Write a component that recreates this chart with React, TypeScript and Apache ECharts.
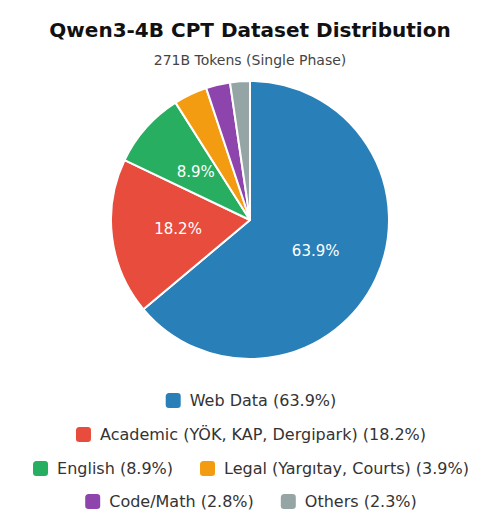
import { useEffect, useRef } from "react"
import * as echarts from "echarts"

const categories = [
  "Web Data",
  "Academic (YÖK, KAP, Dergipark)",
  "English",
  "Legal (Yargıtay, Courts)",
  "Code/Math",
  "Others",
]
const shares = [63.9, 18.2, 8.9, 3.9, 2.8, 2.3]
const colors = ["#2980b9", "#e74c3c", "#27ae60", "#f39c12", "#8e44ad", "#95a5a6"]
const legendRows = [
  ["Web Data"],
  ["Academic (YÖK, KAP, Dergipark)"],
  ["English", "Legal (Yargıtay, Courts)"],
  ["Code/Math", "Others"],
]
const legendTops = [386, 420, 454, 487]

const FONT = "DejaVu Sans"

export default function App() {
  const chartRef = useRef<HTMLDivElement>(null)

  useEffect(() => {
    if (!chartRef.current) return
    const chart = echarts.init(chartRef.current, null, { renderer: "svg" })

    const shareOf = (name: string) => shares[categories.indexOf(name)]

    const option = {
      animation: false,
      title: {
        text: "Qwen3-4B CPT Dataset Distribution",
        subtext: "271B Tokens (Single Phase)",
        left: "center",
        top: 15,
        itemGap: 13,
        textStyle: {
          fontFamily: FONT,
          fontSize: 20,
          fontWeight: "bold",
          color: "#111",
        },
        subtextStyle: {
          fontFamily: FONT,
          fontSize: 14,
          color: "#444",
        },
      },
      legend: legendRows.map((row, i) => ({
        data: row,
        top: legendTops[i],
        left: "center",
        icon: "roundRect",
        itemWidth: 17,
        itemHeight: 17,
        itemGap: 25,
        selectedMode: false,
        formatter: (name: string) => `${name} (${shareOf(name).toFixed(1)}%)`,
        textStyle: {
          fontFamily: FONT,
          fontSize: 16,
          color: "#333",
          padding: [0, 0, 0, 3],
        },
      })),
      series: [
        {
          type: "pie",
          center: [250, 220],
          radius: 139,
          startAngle: 90,
          clockwise: true,
          data: categories.map((name, i) => ({
            name,
            value: shares[i],
            itemStyle: { color: colors[i] },
          })),
          itemStyle: {
            borderColor: "#fff",
            borderWidth: 2,
          },
          label: {
            position: "inside",
            fontFamily: FONT,
            fontSize: 15,
            color: "#fff",
            formatter: (p: any) => (p.value >= 5 ? `${p.value.toFixed(1)}%` : ""),
          },
          labelLine: { show: false },
          emphasis: { disabled: true },
        },
      ],
    }

    chart.setOption(option)

    return () => {
      chart.dispose()
    }
  }, [])

  return (
    <div
      ref={chartRef}
      style={{ position: "absolute", left: 0, top: 0, width: "500px", height: "525px" }}
    />
  )
}
